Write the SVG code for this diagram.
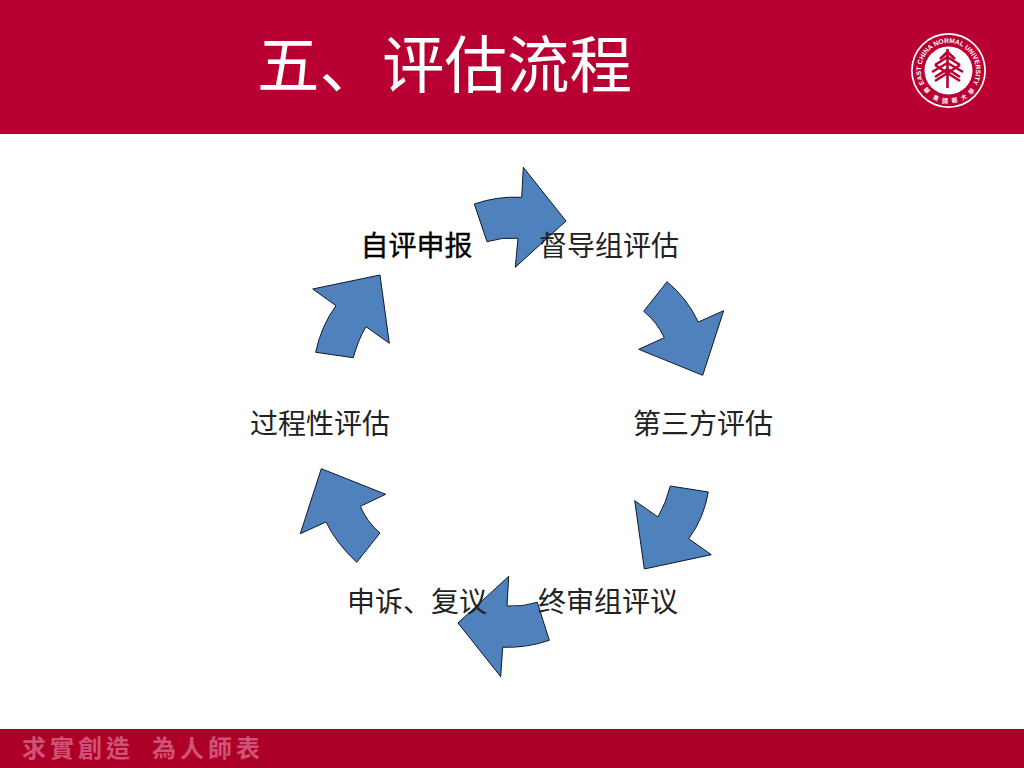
<svg xmlns="http://www.w3.org/2000/svg" width="1024" height="768" viewBox="0 0 1024 768">
<style>
.cjk{font-family:"Noto Sans CJK SC","Noto Sans CJK TC",sans-serif}
.band{fill:#b90032}
.arrow{fill:#4f81bd;stroke:#0f1a2b;stroke-width:1}
.label{font-size:28px;fill:#222}
.strong{fill:#000;stroke:#000;stroke-width:.35px}
.title{font-size:62.5px;fill:#fff}
.foot{font-size:24px;fill:#cf5375;letter-spacing:4px;font-family:"Noto Sans CJK TC","Noto Sans CJK SC",sans-serif;font-weight:bold}
.ring{font-family:"Liberation Sans",sans-serif;font-size:6.7px;font-weight:bold;fill:#fff}
.seal{font-family:"Noto Sans CJK TC",sans-serif;font-size:6px;fill:#fff;text-anchor:middle;font-weight:bold}
</style>
<defs>
<path id="ringPath" d="M924 83A27.5 27.5 0 1 1 973 83"/>
</defs>
<rect width="1024" height="768" fill="#fff"/>
<g id="header">
<rect class="band" width="1024" height="134"/>
<text class="cjk title" x="257" y="88">五、评估流程</text>
</g>
<g id="logo">
<circle cx="948.5" cy="70.5" r="37.5" fill="#fff"/>
<circle cx="948.5" cy="70.5" r="35.8" fill="#b90032"/>
<circle cx="948.5" cy="70.5" r="24" fill="#fff"/>
<text class="ring"><textPath href="#ringPath" startOffset="50%" text-anchor="middle">EAST CHINA NORMAL UNIVERSITY</textPath></text>
<g fill="none" stroke="#b90032" stroke-width="2.6">
<path d="M947.5 49V88"/>
<path d="M947.5 52L940 59M947.5 52L955 59"/>
<path d="M947.5 57L935 65M947.5 57L960 65"/>
<path d="M947.5 63L932 72M947.5 63L963 72"/>
<path d="M947.5 69L935 77M947.5 69L960 77"/>
<path d="M935 65L960 81M960 65L935 81"/>
</g>
<text class="seal" x="925" y="92" transform="rotate(48 925 92)">華</text>
<text class="seal" x="935" y="100" transform="rotate(25 935 100)">東</text>
<text class="seal" x="945" y="103">師</text>
<text class="seal" x="955" y="102.500" transform="rotate(-10 955 102.500)">範</text>
<text class="seal" x="965" y="99" transform="rotate(-28 965 99)">大</text>
<text class="seal" x="973" y="93" transform="rotate(-48 973 93)">學</text>
</g>
<g id="connectors">
<path id="arrow-1" class="arrow" d="M474.3 204Q497 196 521.7 197.3L523.3 167.3L566 221L515.3 267.3L518 238.3Q502 237 487 241.7Z"/>
<path id="arrow-2" class="arrow" d="M667 281.700Q687 298 698.300 322L723.700 310.700L702.700 375.300L638.700 349.300L664.300 337.700Q657 322 643.700 311.300Z"/>
<path id="arrow-3" class="arrow" d="M670.3 486L708.3 492Q704 518 688.7 538.7L711.3 554.7L644.3 569L634.7 500.7L658 517Q666 503 670.3 486Z"/>
<path id="arrow-4" class="arrow" d="M549.3 640.3Q527 648 502.7 647.3L500.7 676.7L458 623L508.7 576.3L507 606Q523 607 537.3 602.3Z"/>
<path id="arrow-5" class="arrow" d="M356.7 562.3Q336 543 326 522L300.3 533.7L321.3 468.7L385.7 494.3L360.3 506.3Q367 522 380 533Z"/>
<path id="arrow-6" class="arrow" d="M380 275L389.3 343.3L366 326.7Q358 340 353.3 357.7L315.7 352.3Q321 326 336 305.7L312.7 289Z"/>
</g>
<g id="node-self"><text class="cjk label strong" x="360.500" y="256">自评申报</text></g>
<g id="node-supervise"><text class="cjk label" x="539" y="256">督导组评估</text></g>
<g id="node-third"><text class="cjk label" x="633" y="434">第三方评估</text></g>
<g id="node-final"><text class="cjk label" x="538" y="612">终审组评议</text></g>
<g id="node-appeal"><text class="cjk label" x="347" y="612">申诉、复议</text></g>
<g id="node-process"><text class="cjk label" x="250" y="434">过程性评估</text></g>
<g id="footer">
<rect y="729" width="1024" height="39" fill="#ad0028"/>
<text class="foot" x="22" y="757">求實創造</text>
<text class="foot" x="152" y="757">為人師表</text>
</g>
</svg>
